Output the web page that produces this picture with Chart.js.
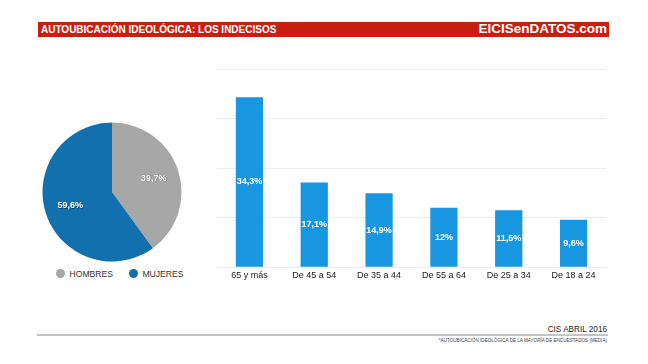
<!DOCTYPE html>
<html><head><meta charset="utf-8">
<script src="https://cdn.jsdelivr.net/npm/chart.js@4.4.1/dist/chart.umd.min.js"></script>
<style>
html,body{margin:0;padding:0;background:#fff;width:648px;height:364px;overflow:hidden;font-family:"Liberation Sans",Arial,sans-serif;}
#hdr{position:absolute;left:38px;top:22px;width:571px;height:15px;background:#c8200e;}
#ttl{position:absolute;left:3px;top:1px;color:#fff;font-weight:bold;font-size:10px;line-height:13px;white-space:nowrap;}
#brand{position:absolute;right:2px;top:-1px;color:#fff;font-weight:bold;font-size:13.5px;line-height:16px;white-space:nowrap;}
#pieWrap{position:absolute;left:40px;top:120px;width:144px;height:144px;}
#barWrap{position:absolute;left:217px;top:60px;width:389px;height:224px;}
#legend{position:absolute;left:56px;top:269px;font-size:8.6px;line-height:11px;color:#333;white-space:nowrap;}
#legend span.item{display:inline-block;margin-right:16px;}
#legend span.dot{display:inline-block;width:9px;height:9px;border-radius:50%;vertical-align:-1px;margin-right:4.5px;}
#line{position:absolute;left:37px;top:334px;width:571px;height:2px;background:#c4c4c4;}
#src{position:absolute;right:41px;top:325px;font-size:8.2px;line-height:10px;color:#222;white-space:nowrap;}
#note{position:absolute;right:41px;top:338px;font-size:4.6px;color:#444;white-space:nowrap;}
</style></head>
<body>
<div id="hdr"><div id="ttl">AUTOUBICACIÓN IDEOLÓGICA: LOS INDECISOS</div><div id="brand">ElCISenDATOS.com</div></div>
<div id="pieWrap"><canvas id="pie" width="144" height="144"></canvas></div>
<div id="legend"></div>
<div id="barWrap"><canvas id="bar" width="389" height="224"></canvas></div>
<div id="line"></div>
<div id="src">CIS ABRIL 2016</div>
<div id="note">*AUTOUBICACIÓN IDEOLÓGICA DE LA MAYORÍA DE ENCUESTADOS (MEDIA)</div>
<script>
const sexLabels = ['HOMBRES', 'MUJERES'];
const sexValues = [39.7, 59.6];
const sexColors = ['#a6a7a6', '#1370ae'];

const ageLabels = ['65 y más', 'De 45 a 54', 'De 35 a 44', 'De 55 a 64', 'De 25 a 34', 'De 18 a 24'];
const ageValues = [34.3, 17.1, 14.9, 12, 11.5, 9.6];
const barColor = '#1896e0';

const fmt = v => String(v).replace('.', ',') + '%';

// legend
const lg = document.getElementById('legend');
sexLabels.forEach((l, i) => {
  const s = document.createElement('span'); s.className = 'item';
  const d = document.createElement('span'); d.className = 'dot'; d.style.background = sexColors[i];
  s.appendChild(d); s.appendChild(document.createTextNode(l)); lg.appendChild(s);
});

const pieLabels = {
  id: 'pieLabels',
  afterDatasetsDraw(chart) {
    const ctx = chart.ctx;
    const meta = chart.getDatasetMeta(0);
    ctx.save();
    ctx.font = 'bold 9px "Liberation Sans", Arial, sans-serif';
    ctx.fillStyle = '#fff';
    ctx.textAlign = 'center'; ctx.textBaseline = 'middle';
    ctx.shadowColor = 'rgba(0,0,0,0.5)'; ctx.shadowBlur = 1; ctx.shadowOffsetX = 0.5; ctx.shadowOffsetY = 0.5;
    meta.data.forEach((arc, i) => {
      const mid = (arc.startAngle + arc.endAngle) / 2;
      const r = arc.outerRadius * 0.63;
      ctx.fillText(fmt(sexValues[i]), arc.x + Math.cos(mid) * r, arc.y + Math.sin(mid) * r);
    });
    ctx.restore();
  }
};

new Chart(document.getElementById('pie'), {
  type: 'pie',
  data: { labels: sexLabels, datasets: [{ data: sexValues, backgroundColor: sexColors, borderWidth: 0 }] },
  options: {
    responsive: false, animation: false,
    layout: { padding: 2.5 },
    plugins: { legend: { display: false }, tooltip: { enabled: false } }
  },
  plugins: [pieLabels]
});

const barLabels = {
  id: 'barLabels',
  afterDatasetsDraw(chart) {
    const ctx = chart.ctx;
    const meta = chart.getDatasetMeta(0);
    ctx.save();
    ctx.font = 'bold 9px "Liberation Sans", Arial, sans-serif';
    ctx.fillStyle = '#fff';
    ctx.textAlign = 'center'; ctx.textBaseline = 'middle';
    meta.data.forEach((b, i) => {
      ctx.fillText(fmt(ageValues[i]), b.x, (b.y + b.base) / 2);
    });
    ctx.restore();
  }
};

new Chart(document.getElementById('bar'), {
  type: 'bar',
  data: { labels: ageLabels, datasets: [{ data: ageValues, backgroundColor: barColor, borderWidth: 0, categoryPercentage: 1, barPercentage: 0.42 }] },
  options: {
    responsive: false, animation: false,
    layout: { padding: { top: 9, left: 0, right: 0, bottom: 0 } },
    scales: {
      x: { grid: { display: false, drawTicks: false }, border: { display: false },
           ticks: { color: '#222', font: { size: 9, family: '"Liberation Sans", Arial, sans-serif' }, padding: 3, maxRotation: 0 } },
      y: { min: 0, max: 40, border: { display: false },
           grid: { color: '#ececec', drawTicks: false },
           ticks: { display: false, stepSize: 10 } }
    },
    plugins: { legend: { display: false }, tooltip: { enabled: false } }
  },
  plugins: [barLabels]
});
</script>
</body></html>
